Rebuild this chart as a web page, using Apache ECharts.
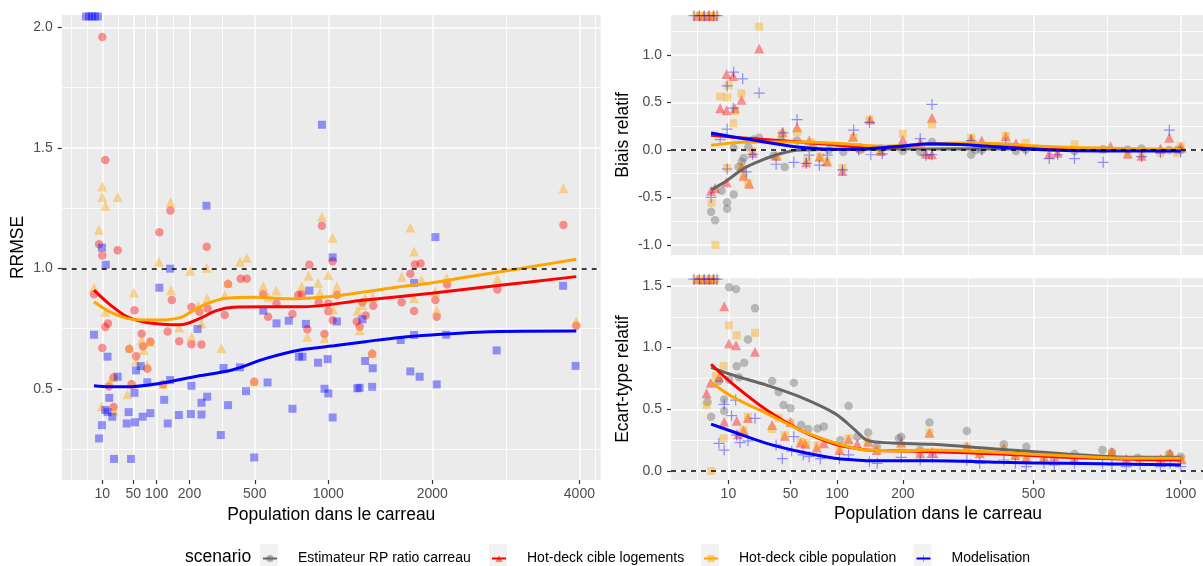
<!DOCTYPE html>
<html><head><meta charset="utf-8">
<script src="https://cdn.jsdelivr.net/npm/echarts@6/dist/echarts.min.js"></script>
<style>html,body{margin:0;padding:0;background:#fff}#c{width:1203px;height:566px}</style>
</head><body><div id="c"></div>
<script>
// ---------- tick labels ----------
const LEFT_X_TICKS = [10, 50, 100, 200, 500, 1000, 2000, 4000];
const RIGHT_X_TICKS = [10, 50, 100, 200, 500, 1000];
const LEFT_Y_TICKS = [0.5, 1.0, 1.5, 2.0];
const TR_Y_TICKS = [-1.0, -0.5, 0.0, 0.5, 1.0];
const BR_Y_TICKS = [0.0, 0.5, 1.0, 1.5];
const SCENARIOS = ['Estimateur RP ratio carreau', 'Hot-deck cible logements', 'Hot-deck cible population', 'Modelisation'];

// ---------- LEFT panel (RRMSE) ----------
const L_LOG_POP = [10,12.5,138,107,266,7.6,26,10,4.5,10,12.5,15,52,66,69,43,55,78,85,142,130,165,207,207,245,237,270,345,361,424,456,549,578,630,735,16,117,47,497,21,21,775,950,3750,855,1035,1810,1870,1760,800,925,1000,1000,1070,1035,840,970,1290,1390,1320,1240,1265,1380,1670,1800,2035,2050,2170,2800,3950];
const L_LOG_VAL = [1.96,1.45,1.24,1.15,1.09,1.10,1.075,1.054,0.893,0.67,0.757,0.772,0.827,0.729,0.677,0.666,0.636,0.584,0.696,0.869,0.738,0.698,0.84,0.686,0.685,0.82,0.834,0.807,0.935,0.957,0.957,0.893,0.80,0.855,0.811,0.51,0.52,0.52,0.53,0.548,0.425,0.89,1.177,1.18,1.015,1.03,1.016,1.02,0.978,0.893,0.86,0.855,0.822,0.89,0.785,0.748,0.728,0.86,0.845,0.805,0.78,0.758,0.646,0.86,0.823,0.869,0.80,0.933,0.913,0.762];
const L_POPU_POP = [10,10,26,12.5,138,7.4,106,203,266,420,456,4.5,12.5,51,140,233,268,346,549,628,580,165,207,245,44,66,70,85,78,55,361,330,497,40,47,17,9.5,21.5,950,1035,1760,1800,3750,850,1000,800,920,935,1070,1670,1880,2165,2800,2035,1800,1315,1385,1245,1040,1290,2050,1265,840,970,1380,3950,117,21];
const L_POPU_VAL = [1.34,1.296,1.296,1.26,1.274,1.16,1.028,0.99,1.003,1.028,1.044,0.92,0.82,0.90,0.91,0.845,0.876,0.89,0.927,0.908,0.88,0.756,0.717,0.772,0.672,0.703,0.662,0.696,0.60,0.617,0.94,0.669,0.532,0.478,0.52,0.53,0.427,0.41,1.214,1.127,1.17,1.07,1.332,0.97,0.973,0.925,0.94,0.90,0.925,0.966,0.952,0.959,0.957,0.903,0.876,0.876,0.88,0.825,0.83,0.848,0.827,0.744,0.717,0.71,0.648,0.78,0.52,0.55];
const L_MOD_POP = [1.2,2.2,3.5,5,6.8,265,950,2035,9.7,13,137,107,4.5,230,14.6,55,64,26,340,420,549,630,710,780,78,137,207,52,268,245,452,575,16.3,120,361,12.5,14.6,19.5,42,85,68,164,205,245,9.7,39,53,130,7.6,327,735,21.5,46,497,1035,855,1800,3745,830,1070,1290,1800,2160,1660,2790,805,920,995,1315,1385,1760,1860,3940,970,1000,1245,1265,1380,2050,1035];
const L_MOD_VAL = [2.045,2.045,2.045,2.045,2.045,1.26,1.596,1.13,1.086,1.015,0.999,0.92,0.725,0.749,0.634,0.577,0.595,0.551,0.587,0.59,0.825,0.772,0.783,0.634,0.528,0.537,0.513,0.484,0.468,0.443,0.491,0.527,0.463,0.455,0.433,0.413,0.404,0.385,0.404,0.40,0.385,0.392,0.396,0.394,0.35,0.357,0.362,0.357,0.295,0.309,0.418,0.21,0.21,0.216,1.046,0.908,0.94,0.928,0.77,0.78,0.789,0.724,0.725,0.703,0.66,0.634,0.609,0.624,0.616,0.586,0.573,0.551,0.596,0.501,0.482,0.503,0.505,0.509,0.519,0.382];
// smooth curves (left)
const L_LOG_S_POP = [4.5,17,39,69,107,168,239,307,385,565,788,1315,1990,2836,3950];
const L_LOG_S_VAL = [0.91,0.85,0.80,0.779,0.77,0.766,0.793,0.825,0.839,0.841,0.841,0.869,0.897,0.93,0.966];
const L_POPU_S_POP = [4.5,17,39,69,107,168,213,270,355,500,697,1045,1315,1652,1990,2390,2836,3330,3950];
const L_POPU_S_VAL = [0.862,0.82,0.793,0.786,0.786,0.796,0.825,0.855,0.876,0.88,0.874,0.885,0.903,0.924,0.94,0.963,0.986,1.01,1.038];
const L_MOD_S_POP = [4.5,17,39,107,213,385,565,788,1045,1315,1652,1990,2836,3950];
const L_MOD_S_VAL = [0.513,0.509,0.509,0.523,0.55,0.58,0.627,0.662,0.679,0.696,0.714,0.724,0.738,0.74];

// ---------- TOP-RIGHT panel (Biais relatif) ----------
const TR_EST_POP = [4.3,5.4,9.5,9.5,12.2,7.5,12.2,16,17,14.5,22.5,26,19.5,45,42,56,72,90,108,131,163,36,200,232,255,340,350,365,452,478,622,715,800,850,955,985,1000];
const TR_EST_VAL = [-0.65,-0.74,-0.55,-0.62,-0.47,-0.43,0.02,-0.125,-0.085,-0.18,0.11,0.13,0.03,-0.18,0.10,0.10,0.03,0.0,-0.02,0.0,0.015,-0.06,-0.01,-0.02,0.085,-0.05,0.0,0.0,-0.01,0.005,-0.01,0.007,0.005,0.015,0.0,0.0,0.0];
const TR_LOG_POP = [26,9.3,12,15.9,7,9.3,12.8,43,56,68,146,121,22,9.3,5.4,4.3,16,17,20,38,65,79,88,107,131,163,200,232,255,243,255,340,365,425,452,545,570,740,800,850,921,955,1000,1.5,2.5,3.6,4.8];
const TR_LOG_VAL = [1.07,0.80,0.78,0.53,0.44,0.42,0.44,0.19,0.24,0.10,0.32,0.14,-0.03,-0.34,-0.40,-0.43,-0.18,-0.27,-0.355,-0.06,-0.13,-0.07,-0.12,-0.22,0.03,-0.01,0.11,0.085,0.34,-0.04,-0.045,0.12,0.10,0.145,0.07,-0.04,-0.03,0.04,-0.04,-0.06,0.015,0.13,0.04,1.415,1.415,1.415,1.415];
const TR_POPU_POP = [26,10,7,9.5,15.9,12,12.8,9.5,4.4,5.5,22,15.9,19.5,17,39,43,56,66,80,87,107,122,145,131,161,70,200,255,340,425,478,622,715,800,850,921,985,1000,1.3,2.2,3.2,4.3,5.5];
const TR_POPU_VAL = [1.30,0.68,0.564,0.556,0.596,0.282,0.41,-0.19,-0.555,-1.0,-0.01,-0.19,-0.35,-0.28,-0.07,0.17,0.19,-0.11,-0.07,-0.12,-0.19,0.13,0.32,0.01,-0.02,0.08,0.17,0.27,0.13,0.15,0.075,0.06,0.0,-0.03,-0.04,-0.03,-0.03,0.04,1.415,1.415,1.415,1.415,1.415];
const TR_MOD_POP = [12.2,16.5,9.5,26,12,9.5,7,4.3,9.5,18.4,22,38,43.5,56,53,65,68,79,88,107,122,129,145,147,165,232,255,243,255,340,365,425,478,545,570,622,715,850,921,955,1000,1.0,1.8,2.7,3.8,5.0,6.0];
const TR_MOD_VAL = [0.82,0.75,0.675,0.60,0.44,0.22,0.11,-0.5,-0.2,-0.23,-0.045,-0.15,0.18,0.32,-0.13,-0.14,-0.055,-0.16,-0.055,-0.21,0.21,0.0,0.29,-0.05,-0.04,0.12,0.48,-0.055,-0.05,0.10,0.0,0.07,0.0,-0.09,-0.05,-0.09,-0.13,-0.07,-0.03,0.21,-0.02,1.415,1.415,1.415,1.415,1.415,1.415];
// smooth curves (top-right)
const TR_EST_S_POP = [4.3,9.5,17,26.6,41,59,96,195,300,500,700,1000];
const TR_EST_S_VAL = [-0.42,-0.32,-0.195,-0.115,-0.04,0.0,0.005,0.01,0.012,0.01,0.005,0.0];
const TR_LOG_S_POP = [4.3,20.5,59,117,170,255,315,410,519,705,1000];
const TR_LOG_S_VAL = [0.155,0.12,0.085,0.04,0.03,0.06,0.06,0.04,0.025,0.007,0.0];
const TR_POPU_S_POP = [4.3,20.5,59,117,170,255,315,410,519,705,1000];
const TR_POPU_S_VAL = [0.05,0.085,0.085,0.06,0.04,0.067,0.075,0.067,0.04,0.02,0.005];
const TR_MOD_S_POP = [4.3,20.5,59,117,195,255,315,410,545,705,1000];
const TR_MOD_S_VAL = [0.18,0.11,0.03,0.007,0.04,0.067,0.057,0.03,0.0,-0.01,-0.01];

// ---------- BOTTOM-RIGHT panel (Ecart-type relatif) ----------
const BR_EST_POP = [10.3,13.3,23.4,19.3,17.3,13.6,10.3,14.6,6.6,8.4,8.4,3.4,4.3,35,40,53,44,50,60,67,77,84,115,104,127,143,156,193,197,250,330,420,480,622,713,745,836,955,1000,232];
const BR_EST_VAL = [1.49,1.476,1.32,1.066,0.877,0.85,0.74,0.76,0.73,0.58,0.486,0.56,0.44,0.73,0.64,0.715,0.534,0.508,0.372,0.34,0.345,0.36,0.526,0.25,0.278,0.313,0.20,0.265,0.278,0.394,0.324,0.216,0.197,0.138,0.17,0.151,0.108,0.138,0.116,0.17];
const BR_LOG_POP = [8.4,10.2,13.3,23.4,4.2,3.2,6.6,8.4,13.6,19.3,17,14.3,35,45,50,59.5,64,76,84,103,115,127,143,156,197,250,330,360,232,256,420,450,480,530,560,622,745,795,921,958,1003,1.5,2.5,3.6,4.8];
const BR_LOG_VAL = [1.336,1.034,1.02,0.966,0.715,0.63,0.76,0.40,0.407,0.43,0.33,0.297,0.372,0.283,0.40,0.23,0.22,0.19,0.224,0.17,0.257,0.22,0.237,0.17,0.23,0.31,0.20,0.143,0.143,0.156,0.184,0.13,0.11,0.116,0.12,0.10,0.156,0.10,0.10,0.143,0.095,1.555,1.555,1.555,1.555];
const BR_POPU_POP = [10.2,13.6,23.4,8.2,5.7,3.2,8.2,4.3,40,35,19.3,17,50,45,59.5,65,77,103,115,142,157,250,330,197,230,360,420,450,480,530,620,745,845,955,1003,1.3,2.2,3.2,4.3,5.5];
const BR_POPU_VAL = [1.18,1.10,1.12,0.85,0.77,0.534,0.265,0.0,0.43,0.34,0.44,0.33,0.39,0.29,0.237,0.225,0.21,0.175,0.265,0.245,0.175,0.31,0.197,0.21,0.156,0.138,0.175,0.125,0.10,0.11,0.10,0.143,0.095,0.13,0.09,1.555,1.555,1.555,1.555,1.555];
const BR_MOD_POP = [8.4,13.1,11.3,6.6,8.4,15.2,19.3,23.4,13.6,53,43,51,38,62,68,80,103,115,145,157,197,232,256,330,360,420,480,450,530,560,622,713,745,795,845,921,958,1000,1.0,1.8,2.7,3.8,5.0,6.0];
const BR_MOD_VAL = [0.54,0.575,0.448,0.224,0.17,0.23,0.245,0.427,0.29,0.278,0.10,0.162,0.21,0.13,0.116,0.10,0.10,0.13,0.075,0.062,0.11,0.089,0.11,0.089,0.062,0.089,0.035,0.062,0.062,0.05,0.062,0.062,0.05,0.035,0.05,0.035,0.062,0.035,1.555,1.555,1.555,1.555,1.555,1.555];
// smooth curves (bottom-right)
const BR_S_POP = [4.3,11.9,31,59,97,124,141,169,195,256,410,594,818,1000];
const BR_EST_S_VAL = [0.84,0.777,0.696,0.60,0.467,0.332,0.25,0.23,0.224,0.216,0.176,0.138,0.111,0.111];
const BR_LOG_S_VAL = [0.865,0.704,0.494,0.332,0.219,0.185,0.17,0.165,0.163,0.156,0.138,0.111,0.095,0.089];
const BR_POPU_S_VAL = [0.72,0.60,0.467,0.332,0.229,0.185,0.17,0.166,0.163,0.17,0.149,0.124,0.103,0.103];
const BR_MOD_S_VAL = [0.38,0.318,0.224,0.156,0.103,0.09,0.084,0.084,0.084,0.084,0.07,0.062,0.054,0.048];

// ---------- styling ----------
const FONT = 'Liberation Sans, Arial, sans-serif';
const COL = {
  est: {line: '#666666', pt: 'rgba(102,102,102,0.5)'},
  log: {line: '#FF0000', pt: 'rgba(255,0,0,0.5)'},
  popu: {line: '#FFA500', pt: 'rgba(255,165,0,0.5)'},
  mod: {line: '#0000FF', pt: 'rgba(0,0,255,0.5)'}
};
const PLUS = 'path://M4.45,0H5.55V4.45H10V5.55H5.55V10H4.45V5.55H0V4.45H4.45Z';

const sqrtArr = a => a.map(Math.sqrt);
const toPts = (pops, vals) => pops.map((p, i) => [Math.sqrt(p), vals[i]]);

// ggplot-like minor breaks (in transformed space)
function minorBreaks(maj, lo, hi) {
  const b = maj.slice();
  const bd = b[1] - b[0];
  if (lo < b[0]) b.unshift(b[0] - bd);
  if (hi > b[b.length - 1]) b.push(b[b.length - 1] + bd);
  const out = [];
  for (let i = 0; i < b.length; i++) {
    out.push(b[i]);
    if (i < b.length - 1) out.push((b[i] + b[i + 1]) / 2);
  }
  return out.filter(v => v >= lo && v <= hi && maj.indexOf(v) < 0);
}

const G = [
  {left: 61.7, top: 15, width: 539.1, height: 465, xmin: -1.951, xmax: 65.94, ymin: 0.1226, ymax: 2.051},
  {left: 671, top: 15, width: 534, height: 240, xmin: -0.448, xmax: 33.15, ymin: -1.106, ymax: 1.422},
  {left: 671, top: 278.3, width: 534, height: 201.7, xmin: -0.448, xmax: 33.15, ymin: -0.073, ymax: 1.562}
];
const XT = [LEFT_X_TICKS, RIGHT_X_TICKS, RIGHT_X_TICKS];
const YT = [LEFT_Y_TICKS, TR_Y_TICKS, BR_Y_TICKS];
const XSHOW = [true, false, true];
const YNAME = ['RRMSE', 'Biais relatif', 'Ecart-type relatif'];
const YGAP = [35, 39, 39];

const xAxes = [], yAxes = [];
G.forEach((g, gi) => {
  const xt = sqrtArr(XT[gi]);
  xAxes.push({
    type: 'value', gridIndex: gi, min: g.xmin, max: g.xmax, position: 'bottom',
    axisLine: {show: false, onZero: false},
    axisTick: {show: XSHOW[gi], customValues: xt, length: 4, lineStyle: {color: '#333333', width: 1.2}},
    axisLabel: {show: XSHOW[gi], customValues: xt, formatter: v => String(Math.round(v * v)), color: '#4D4D4D', fontSize: 14, margin: 7, fontFamily: FONT},
    splitLine: {show: true, lineStyle: {color: '#FFFFFF', width: 1.5}},
    name: XSHOW[gi] ? 'Population dans le carreau' : '', nameLocation: 'middle', nameGap: 25,
    nameTextStyle: {fontSize: 17.5, color: '#000', fontFamily: FONT}
  });
  xAxes.push({
    type: 'value', gridIndex: gi, min: g.xmin, max: g.xmax, position: 'bottom',
    axisLine: {show: false, onZero: false}, axisLabel: {show: false},
    axisTick: {show: false, customValues: minorBreaks(xt, g.xmin, g.xmax)},
    splitLine: {show: true, lineStyle: {color: '#FFFFFF', width: 0.8}}
  });
  const yt = YT[gi];
  yAxes.push({
    type: 'value', gridIndex: gi, min: g.ymin, max: g.ymax, position: 'left',
    axisLine: {show: false, onZero: false},
    axisTick: {show: true, customValues: yt, length: 4, lineStyle: {color: '#333333', width: 1.2}},
    axisLabel: {customValues: yt, formatter: v => v.toFixed(1), color: '#4D4D4D', fontSize: 14, margin: 9, fontFamily: FONT},
    splitLine: {show: true, lineStyle: {color: '#FFFFFF', width: 1.5}},
    name: YNAME[gi], nameLocation: 'middle', nameGap: YGAP[gi],
    nameTextStyle: {fontSize: 17.5, color: '#000', fontFamily: FONT}
  });
  yAxes.push({
    type: 'value', gridIndex: gi, min: g.ymin, max: g.ymax, position: 'left',
    axisLine: {show: false, onZero: false}, axisLabel: {show: false},
    axisTick: {show: false, customValues: minorBreaks(yt, g.ymin, g.ymax)},
    splitLine: {show: true, lineStyle: {color: '#FFFFFF', width: 0.8}}
  });
});

function lineS(name, gi, pops, vals, c, symbol, hline) {
  const s = {
    type: 'line', name, xAxisIndex: gi * 2, yAxisIndex: gi * 2,
    data: toPts(pops, vals), smooth: 0.35, showSymbol: false, symbol, symbolSize: 7,
    lineStyle: {color: c.line, width: 3}, itemStyle: {color: c.line},
    z: 4, silent: true, animation: false
  };
  if (hline !== undefined) {
    s.markLine = {silent: true, symbol: ['none', 'none'], label: {show: false}, animation: false,
      lineStyle: {color: '#000', type: [5, 5], width: 1.5}, data: [{yAxis: hline}]};
  }
  return s;
}
function scat(name, gi, pops, vals, c, symbol, size) {
  return {
    type: 'scatter', name, xAxisIndex: gi * 2, yAxisIndex: gi * 2,
    data: toPts(pops, vals), symbol, symbolSize: size,
    itemStyle: {color: c.pt}, z: 2, silent: true, animation: false
  };
}

const series = [
  lineS(SCENARIOS[0], 1, TR_EST_S_POP, TR_EST_S_VAL, COL.est, 'circle', 0),
  lineS(SCENARIOS[0], 2, BR_S_POP, BR_EST_S_VAL, COL.est, 'circle', 0),
  lineS(SCENARIOS[1], 1, TR_LOG_S_POP, TR_LOG_S_VAL, COL.log, 'triangle'),
  lineS(SCENARIOS[1], 2, BR_S_POP, BR_LOG_S_VAL, COL.log, 'triangle'),
  lineS(SCENARIOS[1], 0, L_LOG_S_POP, L_LOG_S_VAL, COL.log, 'triangle', 1),
  lineS(SCENARIOS[2], 1, TR_POPU_S_POP, TR_POPU_S_VAL, COL.popu, 'rect'),
  lineS(SCENARIOS[2], 2, BR_S_POP, BR_POPU_S_VAL, COL.popu, 'rect'),
  lineS(SCENARIOS[2], 0, L_POPU_S_POP, L_POPU_S_VAL, COL.popu, 'rect'),
  lineS(SCENARIOS[3], 1, TR_MOD_S_POP, TR_MOD_S_VAL, COL.mod, PLUS),
  lineS(SCENARIOS[3], 2, BR_S_POP, BR_MOD_S_VAL, COL.mod, PLUS),
  lineS(SCENARIOS[3], 0, L_MOD_S_POP, L_MOD_S_VAL, COL.mod, PLUS),
  scat(SCENARIOS[1], 0, L_LOG_POP, L_LOG_VAL, COL.log, 'circle', 8.5),
  scat(SCENARIOS[2], 0, L_POPU_POP, L_POPU_VAL, COL.popu, 'triangle', 10),
  scat(SCENARIOS[3], 0, L_MOD_POP, L_MOD_VAL, COL.mod, 'rect', 8),
  scat(SCENARIOS[0], 1, TR_EST_POP, TR_EST_VAL, COL.est, 'circle', 8.5),
  scat(SCENARIOS[1], 1, TR_LOG_POP, TR_LOG_VAL, COL.log, 'triangle', 10),
  scat(SCENARIOS[2], 1, TR_POPU_POP, TR_POPU_VAL, COL.popu, 'rect', 8),
  scat(SCENARIOS[3], 1, TR_MOD_POP, TR_MOD_VAL, COL.mod, PLUS, 11),
  scat(SCENARIOS[0], 2, BR_EST_POP, BR_EST_VAL, COL.est, 'circle', 8.5),
  scat(SCENARIOS[1], 2, BR_LOG_POP, BR_LOG_VAL, COL.log, 'triangle', 10),
  scat(SCENARIOS[2], 2, BR_POPU_POP, BR_POPU_VAL, COL.popu, 'rect', 8),
  scat(SCENARIOS[3], 2, BR_MOD_POP, BR_MOD_VAL, COL.mod, PLUS, 11)
];

const LEG_BOX = [260, 489, 701, 913.5];
const LEG_PT = [COL.est.pt, COL.log.pt, COL.popu.pt, COL.mod.pt];
const legends = SCENARIOS.map((name, i) => ({
  left: LEG_BOX[i] + 2, top: 551.5, padding: 0, itemWidth: 14, itemHeight: 9, itemGap: 0,
  selectedMode: false,
  data: [{name, itemStyle: {color: LEG_PT[i]}}],
  textStyle: {fontSize: 14, color: '#000', fontFamily: FONT, padding: [0, 0, 0, 16]}
}));

const graphics = LEG_BOX.map(x => ({
  type: 'rect', x: x, y: 544, shape: {width: 18, height: 22}, style: {fill: '#F2F2F2'}, silent: true, z: 0
}));
graphics.push({type: 'text', x: 185, y: 557, silent: true,
  style: {text: 'scenario', fontSize: 17.5, fontFamily: FONT, fill: '#000', verticalAlign: 'middle'}});

const chart = echarts.init(document.getElementById('c'), null, {renderer: 'canvas'});
chart.setOption({
  animation: false,
  backgroundColor: '#FFFFFF',
  textStyle: {fontFamily: FONT},
  grid: G.map(g => ({left: g.left, top: g.top, width: g.width, height: g.height,
    show: true, backgroundColor: '#EBEBEB', borderWidth: 0, containLabel: false, outerBoundsMode: 'none'})),
  xAxis: xAxes,
  yAxis: yAxes,
  legend: legends,
  graphic: graphics,
  series
});
</script>
</body></html>
